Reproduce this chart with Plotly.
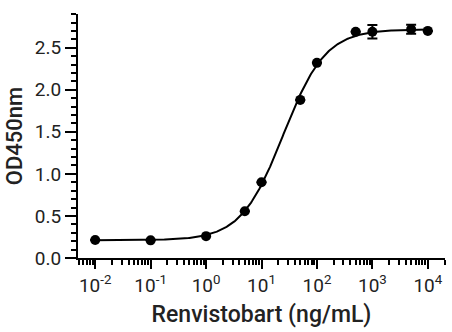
import numpy as np
import plotly.graph_objects as go

# Data
conc = [0.01, 0.1, 1, 5, 10, 50, 100, 500, 1000, 5000, 10000]
od450 = [0.215, 0.21, 0.26, 0.555, 0.90, 1.88, 2.32, 2.69, 2.69, 2.72, 2.70]
od_err = [0, 0, 0, 0, 0, 0, 0, 0, 0.08, 0.054, 0]

# 4PL fit parameters
fit_bottom = 0.21
fit_top = 2.72
fit_ec50 = 24.7
fit_hill = 1.14

x_tickvals = [0.01, 0.1, 1, 10, 100, 1000, 10000]
x_ticktext = ["10<sup>-2</sup>", "10<sup>-1</sup>", "10<sup>0</sup>", "10<sup>1</sup>",
              "10<sup>2</sup>", "10<sup>3</sup>", "10<sup>4</sup>"]
x_decades = [-3, -2, -1, 0, 1, 2, 3, 4]
x_minor_digits = [2, 3, 4, 5, 6, 7, 8, 9]
x_minorvals = [d * 10.0 ** k for k in x_decades for d in x_minor_digits]

xc = np.logspace(np.log10(conc[0]), np.log10(conc[-1]), 400)
yc = fit_bottom + (fit_top - fit_bottom) / (1 + (fit_ec50 / xc) ** fit_hill)

fig = go.Figure()
fig.add_trace(go.Scatter(x=xc, y=yc, mode="lines",
                         line=dict(color="black", width=2), hoverinfo="skip",
                         cliponaxis=False))
fig.add_trace(go.Scatter(x=conc, y=od450, mode="markers",
                         marker=dict(color="black", size=10),
                         error_y=dict(type="data", array=od_err, color="black",
                                      thickness=2, width=5),
                         cliponaxis=False))

font_family = "Roboto"
txt = "#222222"
fig.update_layout(
    width=452, height=332,
    margin=dict(l=78, r=7, t=14, b=74),
    plot_bgcolor="white", paper_bgcolor="white",
    showlegend=False,
    font=dict(family=font_family, color=txt, size=19),
)
fig.update_xaxes(
    type="log", range=[-2.31, 4.31],
    tickmode="array", tickvals=x_tickvals, ticktext=x_ticktext,
    ticks="outside", ticklen=9, tickwidth=2, tickcolor="black",
    showline=True, linecolor="black", linewidth=2,
    showgrid=False, zeroline=False,
    tickfont=dict(size=19, family=font_family, color=txt),
    minor=dict(ticks="outside", ticklen=5, tickwidth=2, tickcolor="black",
               tickmode="array", tickvals=x_minorvals, showgrid=False),
    title=dict(text="Renvistobart (ng/mL)", standoff=10,
               font=dict(size=23, family=font_family, color=txt, weight=500)),
)
fig.update_yaxes(
    range=[0, 2.901], dtick=0.5, tickformat=".1f",
    ticks="outside", ticklen=11, tickwidth=2, tickcolor="black",
    showline=True, linecolor="black", linewidth=2,
    showgrid=False, zeroline=False,
    tickfont=dict(size=19, family=font_family, color=txt),
    minor=dict(ticks="outside", ticklen=5, tickwidth=2, tickcolor="black",
               dtick=0.1, showgrid=False),
    title=dict(text="OD450nm", standoff=6,
               font=dict(size=22, family=font_family, color=txt, weight=500)),
)

fig.write_html("out.html")
